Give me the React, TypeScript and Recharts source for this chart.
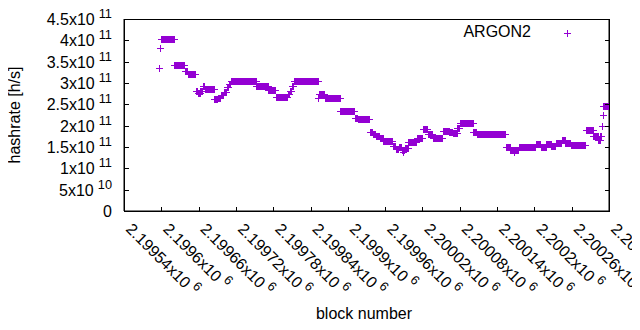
import React from 'react';
import { ScatterChart, Scatter, XAxis, YAxis } from 'recharts';

const PURPLE = '#9400d3';
const INK = '#000000';
const FONT = '"Liberation Sans", Arial, sans-serif';

// runs of blocks with the same hashrate (x10^11 h/s)
const runStart = [
  2199600, 2199621, 2199638, 2199643, 2199655, 2199659, 2199663, 2199667, 2199670, 2199685,
  2199691, 2199696, 2199701, 2199705, 2199709, 2199712, 2199753, 2199772, 2199784, 2199803,
  2199807, 2199810, 2199813, 2199853, 2199863, 2199888, 2199911, 2199916, 2199935, 2199940,
  2199945, 2199951, 2199957, 2199972, 2199977, 2199982, 2199987, 2199992, 2199997, 2200011,
  2200021, 2200029, 2200037, 2200053, 2200063, 2200069, 2200076, 2200080, 2200102, 2200107,
  2200154, 2200161, 2200175, 2200202, 2200210, 2200219, 2200227, 2200234, 2200244, 2200250,
  2200259, 2200283, 2200295, 2200303, 2200306, 2200311,
];
const runEnd = [
  2199620, 2199637, 2199642, 2199654, 2199658, 2199662, 2199666, 2199669, 2199684, 2199690,
  2199695, 2199700, 2199704, 2199708, 2199711, 2199752, 2199771, 2199783, 2199802, 2199806,
  2199809, 2199812, 2199852, 2199862, 2199887, 2199910, 2199915, 2199934, 2199939, 2199944,
  2199950, 2199956, 2199971, 2199976, 2199981, 2199986, 2199991, 2199996, 2200010, 2200020,
  2200028, 2200036, 2200052, 2200062, 2200068, 2200075, 2200079, 2200101, 2200106, 2200153,
  2200160, 2200174, 2200201, 2200209, 2200218, 2200226, 2200233, 2200243, 2200249, 2200258,
  2200282, 2200294, 2200302, 2200305, 2200307, 2200318,
];
const runValue = [
  4.02, 3.43, 3.27, 3.2, 2.82, 2.77, 2.81, 2.93, 2.85, 2.62,
  2.66, 2.72, 2.8, 2.9, 2.98, 3.04, 2.94, 2.83, 2.67, 2.75,
  2.82, 2.92, 3.04, 2.75, 2.66, 2.35, 2.18, 2.15, 1.85, 1.8,
  1.76, 1.72, 1.65, 1.53, 1.46, 1.5, 1.42, 1.47, 1.62, 1.7,
  1.93, 1.8, 1.7, 1.88, 1.85, 1.82, 1.95, 2.07, 1.85, 1.8,
  1.5, 1.43, 1.51, 1.56, 1.5, 1.57, 1.53, 1.6, 1.66, 1.59,
  1.54, 1.91, 1.76, 1.66, 1.76, 2.45,
];

// stray single points
const singleBlock = [2199597, 2199598, 2199852, 2199989, 2200167, 2200308, 2200310];
const singleValue = [3.36, 3.81, 2.64, 1.38, 1.39, 1.99, 2.25];

const xTicks = [
  2199540, 2199600, 2199660, 2199720, 2199780, 2199840, 2199900,
  2199960, 2200020, 2200080, 2200140, 2200200, 2200260, 2200320,
];
const xTickLabels = [
  '2.19954', '2.1996', '2.19966', '2.19972', '2.19978', '2.19984', '2.1999',
  '2.19996', '2.20002', '2.20008', '2.20014', '2.2002', '2.20026', '2.20032',
];
const yTicks = [0, 5e10, 1e11, 1.5e11, 2e11, 2.5e11, 3e11, 3.5e11, 4e11, 4.5e11];
const yTickMantissa = ['0', '5', '1', '1.5', '2', '2.5', '3', '3.5', '4', '4.5'];
const yTickExp = ['', '10', '11', '11', '11', '11', '11', '11', '11', '11'];

const points: { block: number; hashrate: number }[] = [];
runStart.forEach((s, i) => {
  for (let b = s; b <= runEnd[i]; b++) points.push({ block: b, hashrate: runValue[i] * 1e11 });
});
singleBlock.forEach((b, i) => points.push({ block: b, hashrate: singleValue[i] * 1e11 }));

const PLOT_LEFT = 124;
const PLOT_RIGHT = 609;
const PLOT_TOP = 19;
const PLOT_BOTTOM = 211;
const TICK = 5;

const Plus = (props: any) => {
  const { cx, cy } = props;
  if (cx == null || cy == null) return null;
  const x = Math.round(cx);
  const y = Math.round(cy);
  return (
    <g fill={PURPLE}>
      <rect x={x - 3} y={y} width={7} height={1} />
      <rect x={x} y={y - 3} width={1} height={7} />
    </g>
  );
};

const Nothing = () => null;

const LeftTick = (props: any) => {
  const { y, payload } = props;
  const i = yTicks.indexOf(payload.value);
  return (
    <g>
      <rect x={PLOT_LEFT} y={Math.round(y)} width={TICK} height={1} fill={INK} />
      <text x={PLOT_LEFT - 12} y={y + 6} textAnchor="end" fontFamily={FONT} fontSize={16} fill={INK}>
        {yTickMantissa[i]}
        {yTickExp[i] && <tspan>x10</tspan>}
        {yTickExp[i] && (
          <tspan dx={4} dy={-7} fontSize={12.8}>
            {yTickExp[i]}
          </tspan>
        )}
      </text>
    </g>
  );
};

const RightTick = (props: any) => {
  const { y } = props;
  return <rect x={PLOT_RIGHT - TICK + 1} y={Math.round(y)} width={TICK} height={1} fill={INK} />;
};

const BottomTick = (props: any) => {
  const { x, payload } = props;
  const i = xTicks.indexOf(payload.value);
  const ax = x + 1;
  const ay = 230;
  return (
    <g>
      <rect x={Math.round(x)} y={PLOT_BOTTOM - TICK + 1} width={1} height={TICK} fill={INK} />
      <text x={ax} y={ay} transform={`rotate(45 ${ax} ${ay})`} fontFamily={FONT} fontSize={16} fill={INK}>
        {xTickLabels[i]}x10
        <tspan dx={4} dy={-7} fontSize={12.8}>6</tspan>
      </text>
    </g>
  );
};

const TopTick = (props: any) => {
  const { x } = props;
  return <rect x={Math.round(x)} y={PLOT_TOP} width={1} height={TICK} fill={INK} />;
};

export default function App() {
  return (
    <div style={{ position: 'relative', margin: -8, width: 640, height: 330, background: '#fff' }}>
      <ScatterChart width={640} height={330} margin={{ top: PLOT_TOP, right: 0, bottom: 0, left: 0 }}>
        <XAxis
          xAxisId="bottom"
          dataKey="block"
          type="number"
          domain={[2199540, 2200320]}
          allowDataOverflow
          ticks={xTicks}
          interval={0}
          height={330 - PLOT_BOTTOM}
          tickSize={0}
          tickLine={false}
          stroke={INK}
          tick={<BottomTick />}
          label={{
            content: () => (
              <text x={364} y={319} textAnchor="middle" fontFamily={FONT} fontSize={16} fill={INK}>
                block number
              </text>
            ),
          }}
        />
        <XAxis
          xAxisId="top"
          orientation="top"
          dataKey="block"
          type="number"
          domain={[2199540, 2200320]}
          allowDataOverflow
          ticks={xTicks}
          interval={0}
          height={0}
          tickSize={0}
          tickLine={false}
          stroke={INK}
          tick={<TopTick />}
        />
        <YAxis
          yAxisId="left"
          dataKey="hashrate"
          type="number"
          domain={[0, 4.5e11]}
          allowDataOverflow
          ticks={yTicks}
          interval={0}
          width={PLOT_LEFT}
          tickSize={0}
          tickLine={false}
          stroke={INK}
          tick={<LeftTick />}
          label={{
            content: () => (
              <text x={20} y={115} transform="rotate(-90 20 115)" textAnchor="middle" fontFamily={FONT} fontSize={16} fill={INK}>
                hashrate [h/s]
              </text>
            ),
          }}
        />
        <YAxis
          yAxisId="right"
          orientation="right"
          dataKey="hashrate"
          type="number"
          domain={[0, 4.5e11]}
          allowDataOverflow
          ticks={yTicks}
          interval={0}
          width={640 - PLOT_RIGHT}
          tickSize={0}
          tickLine={false}
          stroke={INK}
          tick={<RightTick />}
        />
        <Scatter
          name="ARGON2"
          data={points}
          xAxisId="top"
          yAxisId="right"
          shape={<Nothing />}
          isAnimationActive={false}
          legendType="none"
        />
        <Scatter
          name="ARGON2"
          data={points}
          xAxisId="bottom"
          yAxisId="left"
          shape={<Plus />}
          isAnimationActive={false}
        />
      </ScatterChart>
      <svg
        width={640}
        height={330}
        style={{ position: 'absolute', left: 0, top: 0, pointerEvents: 'none' }}
      >
        {/* plot frame */}
        <g fill={INK}>
          <rect x={PLOT_LEFT} y={PLOT_TOP} width={PLOT_RIGHT - PLOT_LEFT + 1} height={1} />
          <rect x={PLOT_LEFT} y={PLOT_BOTTOM} width={PLOT_RIGHT - PLOT_LEFT + 1} height={1} />
          <rect x={PLOT_LEFT} y={PLOT_TOP} width={1} height={PLOT_BOTTOM - PLOT_TOP + 1} />
          <rect x={PLOT_RIGHT} y={PLOT_TOP} width={1} height={PLOT_BOTTOM - PLOT_TOP + 1} />
        </g>
        <text x={531} y={37} textAnchor="end" fontFamily={FONT} fontSize={16} fill={INK}>ARGON2</text>
        <g fill={PURPLE}>
          <rect x={564} y={33} width={7} height={1} />
          <rect x={567} y={30} width={1} height={7} />
        </g>
      </svg>
    </div>
  );
}
